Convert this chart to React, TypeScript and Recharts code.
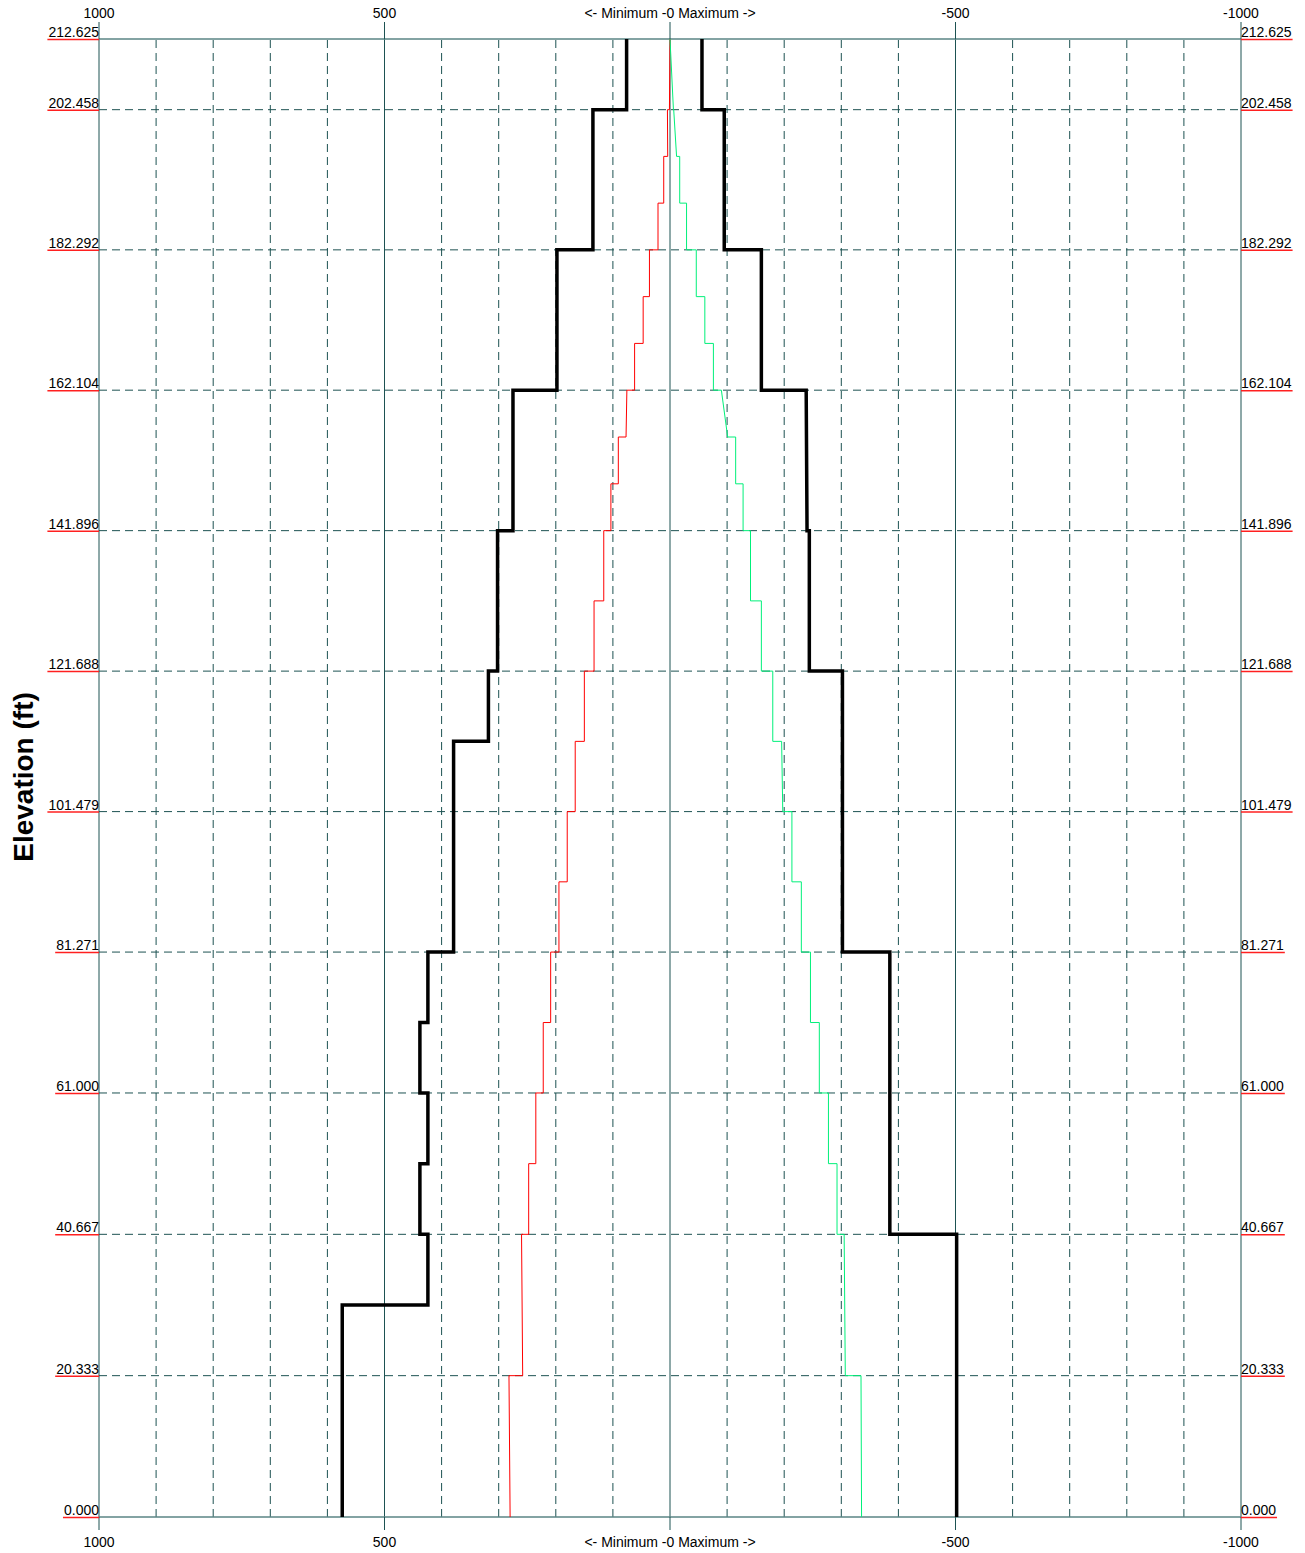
import React from "react";
import {
  ScatterChart,
  Scatter,
  XAxis,
  YAxis,
  ReferenceLine,
  Label,
} from "recharts";

// elevation ticks (ft) and force axis ticks
const ELEVATION_TICKS = [0, 20.333, 40.667, 61.0, 81.271, 101.479, 121.688, 141.896, 162.104, 182.292, 202.458, 212.625];
const FORCE_TICKS = [1000, 500, 0, -500, -1000];
const MINOR_GRID = [900, 800, 700, 600, 400, 300, 200, 100, -100, -200, -300, -400, -600, -700, -800, -900];

// envelope, [top, bottom, value]
const ENVELOPE_MAX = [
  [212.625, 202.458, 76],
  [202.458, 182.292, 135],
  [182.292, 162.104, 198],
  [162.104, 141.896, 275],
  [141.896, 121.688, 302],
  [121.688, 111.583, 318],
  [111.583, 81.271, 379],
  [81.271, 71.135, 424],
  [71.135, 61.0, 438],
  [61.0, 50.833, 424],
  [50.833, 40.667, 438],
  [40.667, 30.5, 424],
  [30.5, 0, 574],
];

const ENVELOPE_MIN = [
  [212.625, 202.458, -56],
  [202.458, 182.292, -95],
  [182.292, 162.104, -160],
  [162.104, 141.896, -238.5, -240],
  [141.896, 121.688, -244],
  [121.688, 81.271, -302],
  [81.271, 40.667, -385],
  [40.667, 0, -502],
];

// [top, bottom, value at top, value at bottom]
const MAXIMUM = [
  [212.625, 202.458, 0, 1],
  [202.458, 195.736, 4.5, 4],
  [195.736, 189.014, 11, 11],
  [189.014, 182.292, 21, 21],
  [182.292, 175.563, 36, 36],
  [175.563, 168.833, 47, 47],
  [168.833, 162.104, 62, 62],
  [162.104, 155.368, 75.5, 77],
  [155.368, 148.632, 90.5, 90.5],
  [148.632, 141.896, 103.5, 103.5],
  [141.896, 131.792, 116, 116],
  [131.792, 121.688, 133, 133],
  [121.688, 111.583, 150, 150],
  [111.583, 101.479, 166, 166],
  [101.479, 91.375, 180, 180],
  [91.375, 81.271, 194.5, 194.5],
  [81.271, 71.135, 209, 209],
  [71.135, 61.0, 222, 222],
  [61.0, 50.833, 235, 235],
  [50.833, 40.667, 247.5, 247.5],
  [40.667, 20.333, 260, 258],
  [20.333, 0, 282, 280],
];

const MINIMUM = [
  [212.625, 202.458, 0, -6],
  [202.458, 195.736, -6.5, -11.5],
  [195.736, 189.014, -17, -17],
  [189.014, 182.292, -29, -29],
  [182.292, 175.563, -46, -46],
  [175.563, 168.833, -61, -61],
  [168.833, 162.104, -76, -76],
  [162.104, 155.368, -90, -101],
  [155.368, 148.632, -115, -115],
  [148.632, 141.896, -128, -128],
  [141.896, 131.792, -141, -141],
  [131.792, 121.688, -160, -160],
  [121.688, 111.583, -180, -180],
  [111.583, 101.479, -195.5, -197.5],
  [101.479, 91.375, -213.5, -213.5],
  [91.375, 81.271, -230, -230],
  [81.271, 71.135, -246, -246],
  [71.135, 61.0, -261.5, -261.5],
  [61.0, 50.833, -277.5, -277.5],
  [50.833, 40.667, -292.5, -292.5],
  [40.667, 20.333, -305, -307],
  [20.333, 0, -334.5, -335.5],
];

const GRID = "#1d5252";
const BORDER = "#5a8585";
const FONT = "'Liberation Sans', Arial, sans-serif";

function toPoints(segs: number[][]) {
  const pts: { x: number; y: number }[] = [];
  segs.forEach(([top, bottom, a, b]) => {
    pts.push({ x: a, y: top });
    pts.push({ x: b === undefined ? a : b, y: bottom });
  });
  return pts;
}

const forceLabel = (v: number) => (v === 0 ? "<- Minimum -0 Maximum ->" : String(v));

function textWidth(s: string, size: number) {
  let w = 0;
  for (const c of s) w += c === "." ? 0.278 : 0.556;
  return w * size;
}

const TopTick = (props: any) => {
  const { x, y, payload } = props;
  return (
    <text x={x} y={y} textAnchor="middle" fontSize={14} fontFamily={FONT} fill="#000">
      {forceLabel(payload.value)}
    </text>
  );
};

const BottomTick = (props: any) => {
  const { x, y, payload } = props;
  return (
    <text x={x} y={y + 10} textAnchor="middle" fontSize={14} fontFamily={FONT} fill="#000">
      {forceLabel(payload.value)}
    </text>
  );
};

const ElevTick = (side: "left" | "right") => (props: any) => {
  const { x, y, payload } = props;
  const label = Number(payload.value).toFixed(3);
  const w = textWidth(label, 14) + 1;
  const x1 = side === "left" ? x - w : x;
  const x2 = side === "left" ? x : x + w;
  return (
    <g>
      <text
        x={x}
        y={y - 2}
        textAnchor={side === "left" ? "end" : "start"}
        fontSize={14}
        fontFamily={FONT}
        fill="#000"
      >
        {label}
      </text>
      <line x1={x1} x2={x2} y1={y + 0.5} y2={y + 0.5} stroke="#ff2020" strokeWidth={1.5} />
    </g>
  );
};

const noShape = () => <g />;

export default function App() {
  return (
    <div style={{ position: "absolute", left: 0, top: 0, width: 1305, height: 1553 }}>
      <ScatterChart width={1305} height={1553} margin={{ top: 8, right: 0, bottom: 0, left: 8 }}>
        <XAxis
          xAxisId="bottom"
          orientation="bottom"
          type="number"
          dataKey="x"
          domain={[-1000, 1000]}
          reversed
          allowDataOverflow
          ticks={FORCE_TICKS}
          interval={0}
          height={36}
          tickSize={13}
          tickMargin={7}
          stroke={GRID}
          axisLine={{ stroke: BORDER, strokeWidth: 1.5 }}
          tick={BottomTick}
        />
        <XAxis
          xAxisId="top"
          orientation="top"
          type="number"
          dataKey="x"
          domain={[-1000, 1000]}
          reversed
          allowDataOverflow
          ticks={FORCE_TICKS}
          interval={0}
          height={31}
          tickSize={17}
          tickMargin={4}
          stroke={GRID}
          axisLine={{ stroke: BORDER, strokeWidth: 1.5 }}
          tick={TopTick}
        />
        <YAxis
          yAxisId="left"
          orientation="left"
          type="number"
          dataKey="y"
          domain={[0, 212.625]}
          allowDataOverflow
          ticks={ELEVATION_TICKS}
          interval={0}
          width={91}
          tickSize={0}
          tickMargin={0}
          axisLine={false}
          tickLine={false}
          tick={ElevTick("left")}
        >
          <Label
            content={() => (
              <text
                x={33}
                y={777}
                transform="rotate(-90, 33, 777)"
                textAnchor="middle"
                fontSize={28}
                fontWeight="bold"
                fontFamily={FONT}
                fill="#000"
              >
                Elevation (ft)
              </text>
            )}
          />
        </YAxis>
        <YAxis
          yAxisId="right"
          orientation="right"
          type="number"
          dataKey="y"
          domain={[0, 212.625]}
          allowDataOverflow
          ticks={ELEVATION_TICKS}
          interval={0}
          width={64}
          tickSize={0}
          tickMargin={0}
          axisLine={false}
          tickLine={false}
          tick={ElevTick("right")}
        />

        {MINOR_GRID.map((v) => (
          <ReferenceLine key={"mv" + v} x={v} xAxisId="bottom" yAxisId="left" stroke={GRID} strokeDasharray="8 5" />
        ))}
        {FORCE_TICKS.map((v) => (
          <ReferenceLine key={"sv" + v} x={v} xAxisId="bottom" yAxisId="left" stroke={GRID} />
        ))}
        {ELEVATION_TICKS.filter((v) => v > 0 && v < 212.625).map((v) => (
          <ReferenceLine key={"h" + v} y={v} xAxisId="bottom" yAxisId="left" stroke={GRID} strokeDasharray="8 5" />
        ))}

        <Scatter
          name="Maximum"
          xAxisId="bottom"
          yAxisId="left"
          data={toPoints(MAXIMUM)}
          line={{ stroke: "#ff0000", strokeWidth: 1 }}
          lineType="joint"
          shape={noShape}
          isAnimationActive={false}
        />
        <Scatter
          name="Minimum"
          xAxisId="bottom"
          yAxisId="left"
          data={toPoints(MINIMUM)}
          line={{ stroke: "#00f07a", strokeWidth: 1 }}
          lineType="joint"
          shape={noShape}
          isAnimationActive={false}
        />
        <Scatter
          name="Envelope max"
          xAxisId="bottom"
          yAxisId="left"
          data={toPoints(ENVELOPE_MAX)}
          line={{ stroke: "#000", strokeWidth: 3.5, strokeLinejoin: "miter" }}
          lineType="joint"
          shape={noShape}
          isAnimationActive={false}
        />
        <Scatter
          name="Envelope min"
          xAxisId="bottom"
          yAxisId="left"
          data={toPoints(ENVELOPE_MIN)}
          line={{ stroke: "#000", strokeWidth: 3.5, strokeLinejoin: "miter" }}
          lineType="joint"
          shape={noShape}
          isAnimationActive={false}
        />
      </ScatterChart>
    </div>
  );
}
